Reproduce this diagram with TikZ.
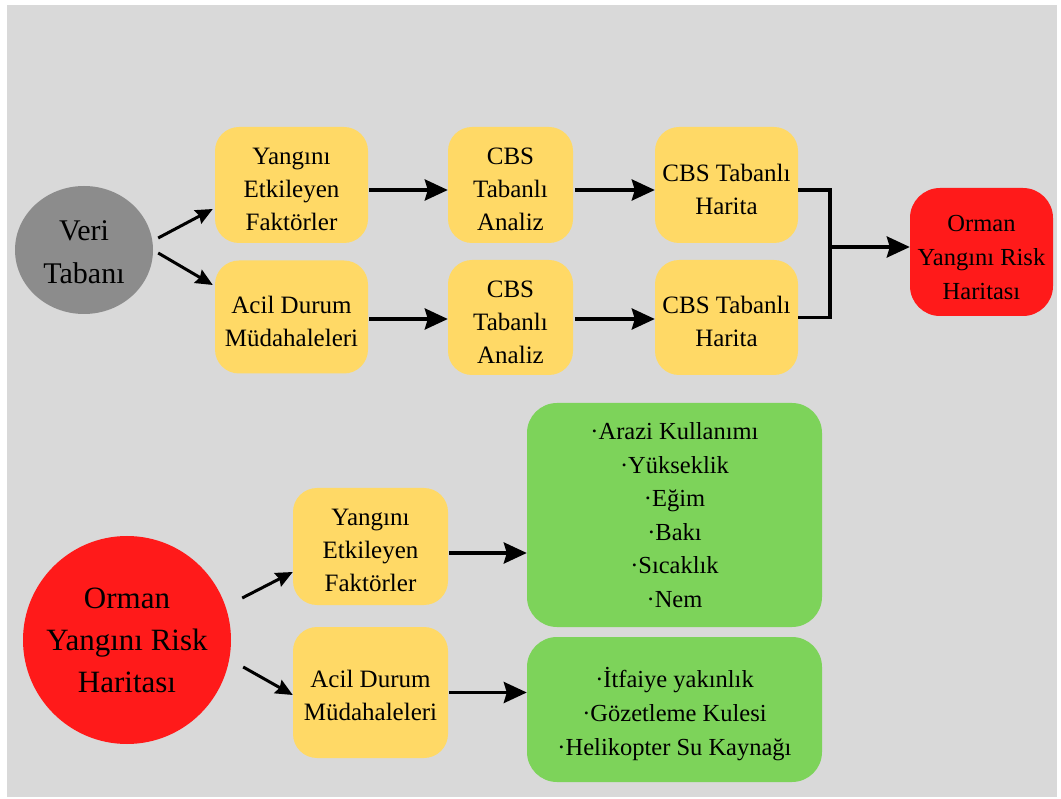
\documentclass[tikz,border=0pt]{standalone}
\usepackage{fontspec}
\setmainfont{Liberation Serif}[Ligatures=TeX]
\newfontfamily\tnr{Liberation Serif}
\usetikzlibrary{arrows.meta,shapes.geometric}
\definecolor{bgray}{HTML}{D9D9D9}
\definecolor{cgray}{HTML}{8C8C8C}
\definecolor{byellow}{HTML}{FFD966}
\definecolor{bgreen}{HTML}{7DD35A}
\definecolor{bred}{HTML}{FF1A1A}
\newcommand{\dn}[1]{\rule{0pt}{#1}}
\tikzset{
  ybox/.style={rectangle, rounded corners=24pt, fill=byellow, align=center, inner sep=0pt,
    font=\tnr\fontsize{25}{33}\selectfont, text=black},
  gbox/.style={rectangle, rounded corners=30pt, fill=bgreen, align=center, inner sep=0pt,
    font=\tnr\fontsize{24.5}{33.5}\selectfont, text=black},
  harr/.style={line width=3.5pt, -{Stealth[length=23pt,width=21pt,inset=3pt]}},
  darr/.style={line width=3pt, -{Stealth[length=17pt,width=15pt,inset=2pt]}},
  brline/.style={line width=3.5pt, line join=miter},
}
\begin{document}
\begin{tikzpicture}[x=1pt,y=-1pt]
\useasboundingbox (0,0) rectangle (1061,799);
\fill[white] (0,0) rectangle (1061,799);
\fill[bgray] (7,5) rectangle (1057,797);

% top part
\node[ellipse, fill=cgray, minimum width=138pt, minimum height=128pt, inner sep=0pt,
  align=center, font=\tnr\fontsize{30}{43}\selectfont] (veri) at (84,250) {\dn{24pt}Veri\\Tabanı};

\node[ybox, minimum width=153pt, minimum height=116pt] (A1) at (291.5,185) {\dn{26pt}Yangını\\Etkileyen\\Faktörler};
\node[ybox, minimum width=153pt, minimum height=113pt] (A2) at (291.5,317) {\dn{26pt}Acil Durum\\Müdahaleleri};
\node[ybox, minimum width=125pt, minimum height=116pt] (B1) at (510.5,185) {\dn{26pt}CBS\\Tabanlı\\Analiz};
\node[ybox, minimum width=125pt, minimum height=115pt] (B2) at (510.5,317.5) {\dn{26pt}CBS\\Tabanlı\\Analiz};
\node[ybox, minimum width=143pt, minimum height=116pt] (C1) at (726.5,185) {\dn{26pt}CBS Tabanlı\\Harita};
\node[ybox, minimum width=143pt, minimum height=115pt] (C2) at (726.5,317.5) {\dn{26pt}CBS Tabanlı\\Harita};
\node[rectangle, rounded corners=30pt, fill=bred, align=center, inner sep=0pt,
  minimum width=143pt, minimum height=128pt, font=\tnr\fontsize{24.5}{34}\selectfont] (R) at (981.5,252)
  {\dn{28pt}Orman\\Yangını Risk\\Haritası};

\draw[darr] ([shift={(5,-12)}]veri.east) -- ([shift={(-2,24)}]A1.west);
\draw[darr] ([shift={(5,3)}]veri.east) -- ([shift={(-2,-32)}]A2.west);

\coordinate (a1o) at ([shift={(1,5)}]A1.east);
\coordinate (a2o) at ([shift={(1,2)}]A2.east);
\coordinate (b1o) at ([shift={(2,5)}]B1.east);
\coordinate (b2o) at ([shift={(2,1.5)}]B2.east);
\draw[harr] (a1o) -- (a1o -| B1.west);
\draw[harr] (a2o) -- (a2o -| B2.west);
\draw[harr] (b1o) -- (b1o -| C1.west);
\draw[harr] (b2o) -- (b2o -| C2.west);

\coordinate (brk) at (830,247);
\draw[brline] ([shift={(0,5)}]C1.east) -| (brk) |- (C2.east);
\draw[harr] (brk) -- (brk -| R.west);

% bottom part
\node[circle, fill=bred, minimum size=208pt, inner sep=0pt, align=center,
  font=\tnr\fontsize{31}{42}\selectfont] (big) at (127,640) {Orman\\Yangını Risk\\Haritası};

\node[ybox, minimum width=155pt, minimum height=117pt] (D1) at (370.5,546.5) {\dn{24pt}Yangını\\Etkileyen\\Faktörler};
\node[ybox, minimum width=155pt, minimum height=131pt] (D2) at (370.5,692.5) {\dn{24pt}Acil Durum\\Müdahaleleri};

\node[gbox, minimum width=295pt, minimum height=224pt] (E1) at (674.5,515)
  {·Arazi Kullanımı\\·Yükseklik\\·Eğim\\·Bakı\\·Sıcaklık\\·Nem};
\node[gbox, minimum width=295pt, minimum height=145pt] (E2) at (674.5,709.5)
  {\dn{30pt}·İtfaiye yakınlık\\[0.5pt]·Gözetleme Kulesi\\[0.5pt]·Helikopter Su Kaynağı};

\draw[darr] ([shift={(11,-42)}]big.east) -- ([shift={(0,25.5)}]D1.west);
\draw[darr] ([shift={(12,27)}]big.east) -- ([shift={(0,2.5)}]D2.west);

\coordinate (d1o) at ([shift={(1,6.5)}]D1.east);
\coordinate (d2o) at ([shift={(1,0)}]D2.east);
\draw[harr] (d1o) -- (d1o -| E1.west);
\draw[harr] (d2o) -- (d2o -| E2.west);
\end{tikzpicture}
\end{document}
